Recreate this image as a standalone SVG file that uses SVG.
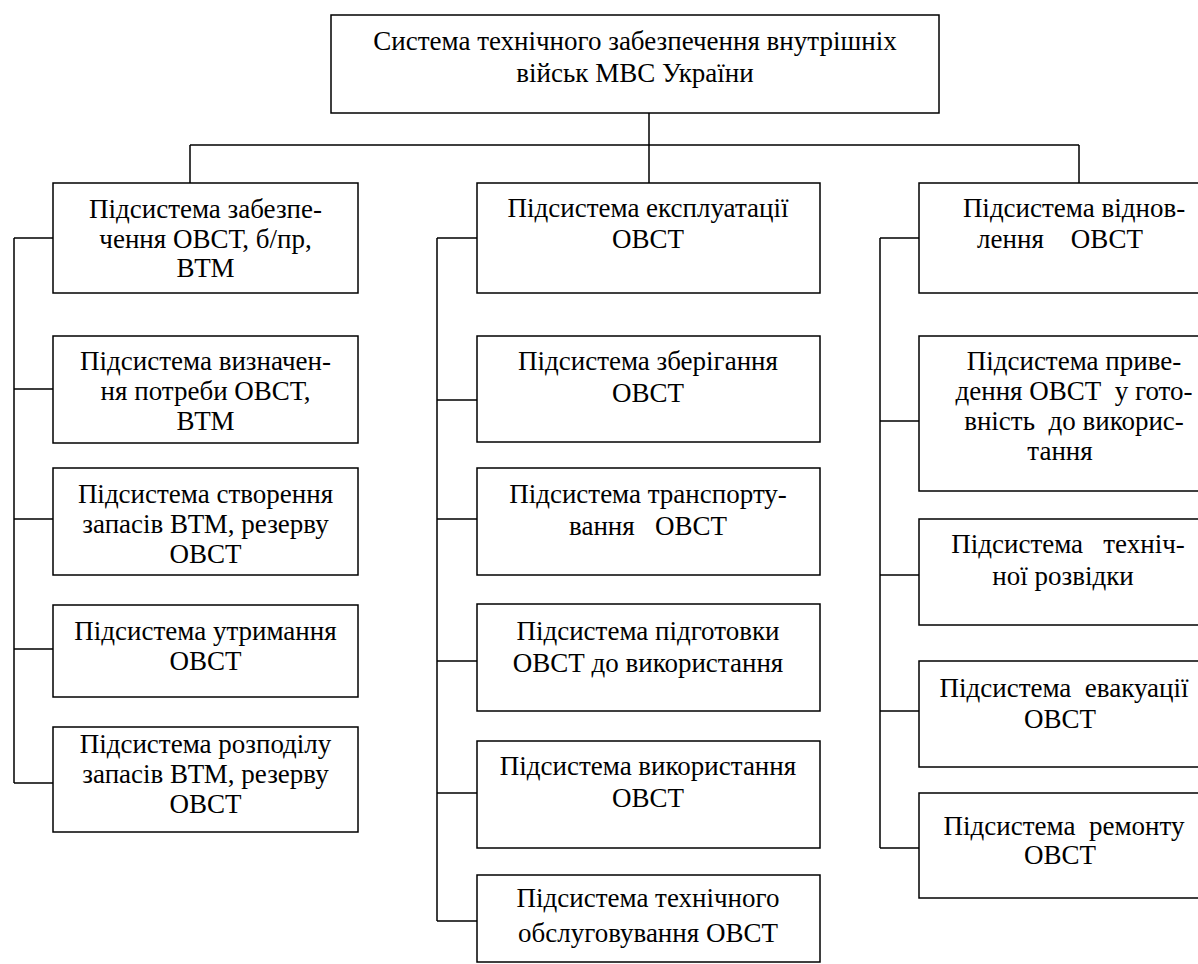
<svg xmlns="http://www.w3.org/2000/svg" width="1198" height="964" viewBox="0 0 1198 964">
<style>
.box{fill:#fff;stroke:#000;stroke-width:1.5}
.c{fill:none;stroke:#000;stroke-width:1.5}
.t text{font-size:27px;fill:#000;text-anchor:middle}
</style>
<rect width="1198" height="964" fill="#fff"/>
<g id="connectors">
<path class="c" d="M649 113V183M190 145H1079M190 145V183M1079 145V183"/>
<path class="c" d="M14 238V783M14 238H53M14 389H53M14 519H53M14 649H53M14 783H53"/>
<path class="c" d="M437 238V921M437 238H477M437 400H477M437 519H477M437 661H477M437 793H477M437 921H477"/>
<path class="c" d="M880 238V848M880 238H919M880 421H919M880 575H919M880 711H919M880 848H919"/>
</g>
<g class="t" font-family="'Liberation Serif', 'Times New Roman', 'DejaVu Serif', serif">
<g id="root"><rect class="box" x="331" y="15" width="608" height="98"/>
<text x="635" y="50">Система технічного забезпечення внутрішніх</text>
<text x="635" y="82">військ МВС України</text></g>

<g id="l1"><rect class="box" x="53" y="183" width="305" height="110"/>
<text x="205.5" y="218">Підсистема забезпе-</text><text x="205.5" y="248">чення ОВСТ, б/пр,</text><text x="205.5" y="277">ВТМ</text></g>
<g id="l2"><rect class="box" x="53" y="336" width="305" height="107"/>
<text x="205.5" y="370">Підсистема визначен-</text><text x="205.5" y="400">ня потреби ОВСТ,</text><text x="205.5" y="430">ВТМ</text></g>
<g id="l3"><rect class="box" x="53" y="468" width="305" height="107"/>
<text x="205.5" y="503">Підсистема створення</text><text x="205.5" y="533">запасів ВТМ, резерву</text><text x="205.5" y="563">ОВСТ</text></g>
<g id="l4"><rect class="box" x="53" y="605" width="305" height="92"/>
<text x="205.5" y="640">Підсистема утримання</text><text x="205.5" y="670">ОВСТ</text></g>
<g id="l5"><rect class="box" x="53" y="727" width="305" height="105"/>
<text x="205.5" y="753">Підсистема розподілу</text><text x="205.5" y="783">запасів ВТМ, резерву</text><text x="205.5" y="813">ОВСТ</text></g>

<g id="m1"><rect class="box" x="477" y="183" width="343" height="110"/>
<text x="648" y="217">Підсистема експлуатації</text><text x="648" y="248">ОВСТ</text></g>
<g id="m2"><rect class="box" x="477" y="336" width="343" height="106"/>
<text x="648" y="370">Підсистема зберігання</text><text x="648" y="402">ОВСТ</text></g>
<g id="m3"><rect class="box" x="477" y="468" width="343" height="107"/>
<text x="648" y="503">Підсистема транспорту-</text><text x="648" y="535" xml:space="preserve">вання   ОВСТ</text></g>
<g id="m4"><rect class="box" x="477" y="604" width="343" height="107"/>
<text x="648" y="640">Підсистема підготовки</text><text x="648" y="672">ОВСТ до використання</text></g>
<g id="m5"><rect class="box" x="477" y="741" width="343" height="107"/>
<text x="648" y="775">Підсистема використання</text><text x="648" y="807">ОВСТ</text></g>
<g id="m6"><rect class="box" x="477" y="875" width="343" height="87"/>
<text x="648" y="907">Підсистема технічного</text><text x="648" y="942">обслуговування ОВСТ</text></g>

<g id="r1"><rect class="box" x="919" y="183" width="290" height="110"/>
<text x="1074" y="217">Підсистема віднов-</text><text x="1060" y="248" xml:space="preserve">лення    ОВСТ</text></g>
<g id="r2"><rect class="box" x="919" y="336" width="290" height="155"/>
<text x="1074" y="370">Підсистема приве-</text><text x="1074" y="400" xml:space="preserve">дення ОВСТ  у гото-</text><text x="1074" y="430" xml:space="preserve">вність  до викорис-</text><text x="1060" y="460">тання</text></g>
<g id="r3"><rect class="box" x="919" y="519" width="290" height="106"/>
<text x="1068" y="553" xml:space="preserve">Підсистема   техніч-</text><text x="1063" y="585">ної розвідки</text></g>
<g id="r4"><rect class="box" x="919" y="661" width="290" height="106"/>
<text x="1064" y="697" xml:space="preserve">Підсистема  евакуації</text><text x="1060" y="728">ОВСТ</text></g>
<g id="r5"><rect class="box" x="919" y="793" width="290" height="105"/>
<text x="1064" y="835" xml:space="preserve">Підсистема  ремонту</text><text x="1060" y="864">ОВСТ</text></g>
</g>
</svg>
